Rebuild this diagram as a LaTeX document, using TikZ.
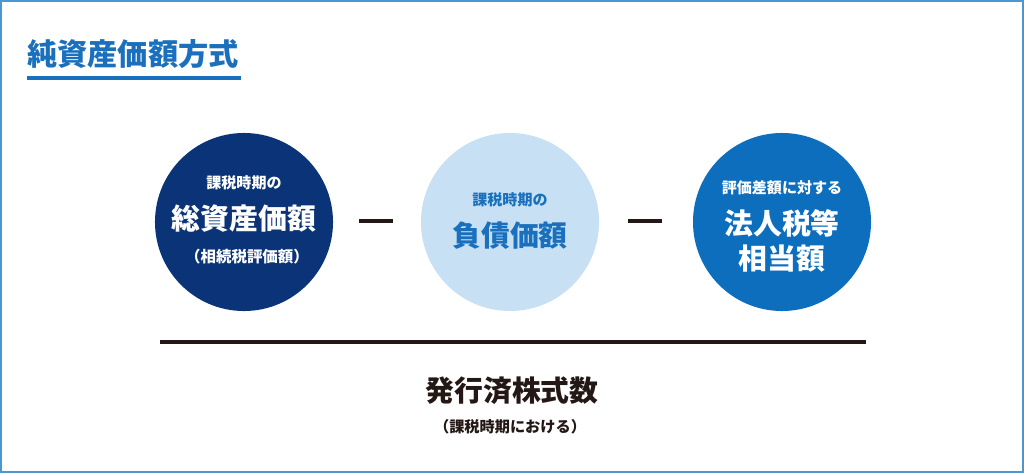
\documentclass[tikz,border=0pt]{standalone}
\usepackage{fontspec}
\newfontfamily\jpfont{Noto Sans CJK JP}
\definecolor{navy}{HTML}{0B3478}
\definecolor{paleblue}{HTML}{C7E0F4}
\definecolor{midblue}{HTML}{0E6EBE}
\definecolor{titleblue}{HTML}{1A70BD}
\definecolor{frameblue}{HTML}{4A97D2}
\definecolor{ink}{HTML}{231815}

\begin{document}
\begin{tikzpicture}[x=0.025cm,y=-0.025cm,
    disc/.style={circle,minimum size=4.45cm,inner sep=0pt},
    small/.style={font=\jpfont\bfseries\fontsize{10.7}{13}\selectfont},
    big/.style={font=\jpfont\bfseries\fontsize{20.5}{24}\selectfont}]
  \useasboundingbox (0,0) rectangle (1024,473);
  \draw[frameblue,line width=1.4pt] (1,1) rectangle (1023,472);
  % title
  \node[anchor=west,inner sep=0pt,text=titleblue,font=\jpfont\bfseries\fontsize{21.5}{25}\selectfont] (title) at (27,54) {純資産価額方式};
  \draw[titleblue,line width=3pt] (27,78) -- (241,78);
  % the three amounts
  \node[disc,fill=navy] (assets) at (244,222) {};
  \node[disc,fill=paleblue] (debts) at (510,222) {};
  \node[disc,fill=midblue] (tax) at (782,222) {};
  \node[small,text=white] (assetsA) at (244,183) {課税時期の};
  \node[big,text=white] (assetsB) at (244,219) {総資産価額};
  \node[small,text=white,font=\jpfont\bfseries\fontsize{11}{13}\selectfont] (assetsC) at (247,257) {（相続税評価額）};
  \node[small,text=titleblue] (debtsA) at (510,200) {課税時期の};
  \node[big,text=titleblue] (debtsB) at (510,236) {負債価額};
  \node[small,text=white] (taxA) at (782,188) {評価差額に対する};
  \node[big,text=white] (taxB) at (782,223) {法人税等};
  \node[big,text=white] (taxC) at (782,259) {相当額};
  % minus signs and fraction bar
  \foreach \x in {376,645} { \draw[ink,line width=2.2pt] (\x-17,221) -- (\x+17,221); }
  \draw[ink,line width=2.2pt] (160,342) -- (866,342);
  \node[big,text=ink] (shares) at (512,391) {発行済株式数};
  \node[small,text=ink,font=\jpfont\bfseries\fontsize{10.8}{13}\selectfont] (when) at (510,427) {（課税時期における）};
\end{tikzpicture}
\end{document}
